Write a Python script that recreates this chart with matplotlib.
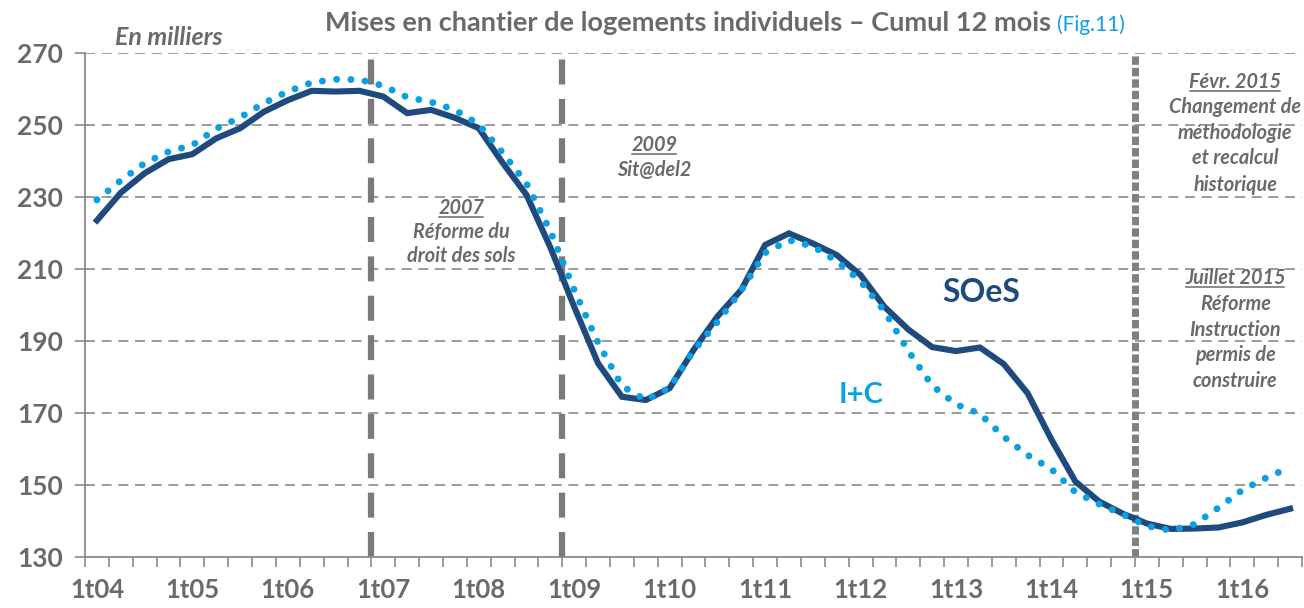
import matplotlib
matplotlib.use("Agg")
import matplotlib.pyplot as plt
from matplotlib.lines import Line2D

# --- data (thousands, rolling 12 months, quarterly 1t04 -> 3t16) ---
soes = [223.5, 231.2, 236.6, 240.5, 241.9, 246.3, 249.1, 253.7, 256.9, 259.5,
        259.3, 259.5, 257.9, 253.3, 254.2, 252.0, 249.1, 239.5, 230.6, 216.0,
        199.5, 183.8, 174.5, 173.6, 176.9, 187.5, 196.8, 204.2, 216.7, 219.9,
        217.1, 213.9, 208.3, 199.5, 193.2, 188.3, 187.2, 188.2, 183.6, 175.5,
        162.6, 151.0, 145.4, 142.0, 139.3, 137.8, 137.9, 138.2, 139.6, 141.7,
        143.4]
ic = [229.2, 234.6, 239.4, 242.6, 244.4, 249.0, 252.1, 256.1, 259.3, 261.8,
      262.7, 262.6, 260.9, 257.7, 256.4, 254.2, 250.2, 242.3, 233.8, 220.5,
      204.2, 189.5, 177.5, 173.6, 177.0, 187.3, 195.3, 204.0, 214.5, 218.0,
      216.3, 212.2, 206.6, 198.3, 187.2, 177.6, 172.4, 169.8, 163.4, 158.3,
      154.4, 148.0, 144.7, 141.8, 138.6, 137.4, 139.1, 143.7, 148.6, 152.0,
      154.9]
tick_labels = ["1t04", "1t05", "1t06", "1t07", "1t08", "1t09", "1t10",
               "1t11", "1t12", "1t13", "1t14", "1t15", "1t16"]
y_ticks = [130, 150, 170, 190, 210, 230, 250, 270]
# breaks: position between quarters where the series changed
breaks = [11.5, 19.5, 43.5]

plt.rcParams['font.family'] = ['Lato', 'DejaVu Sans']

NAVY = "#1f4a7e"
BLUE = "#0ba0e2"
GREY = "#6a6a6a"
AXIS = "#8a8a8a"

fig = plt.figure(figsize=(13.04, 6.08), dpi=100)
ax = fig.add_axes([0.0652, 0.0839, 0.9333, 0.8289])

x = list(range(len(soes)))

# grid
for v in y_ticks[1:]:
    ax.axhline(v, color=AXIS, lw=1.2, ls=(0, (6, 4)), zorder=1)

# vertical break lines
ax.axvline(breaks[0], color="#7a7a7a", lw=4.5, ls=(0, (4.0, 2.3)), zorder=2)
ax.axvline(breaks[1], color="#7a7a7a", lw=4.5, ls=(0, (4.0, 2.3)), zorder=2)
ax.axvline(breaks[2], color="#808080", lw=5, ls=(0, (1.2, 0.45)), zorder=2)

ax.plot(x, soes, color=NAVY, lw=4.4, solid_joinstyle="miter", zorder=3)
ax.plot(x, ic, color=BLUE, lw=5.0, ls=(0, (0.01, 2.05)),
        dash_capstyle="round", zorder=4)

ax.set_xlim(-0.5, 50.4)
ax.set_ylim(130, 270)

# axes styling
for s in ["top", "right"]:
    ax.spines[s].set_visible(False)
for s in ["left", "bottom"]:
    ax.spines[s].set_color(AXIS)
    ax.spines[s].set_linewidth(1.3)

ax.set_yticks(y_ticks)
ax.set_yticklabels([str(v) for v in y_ticks], fontsize=19, fontweight="bold",
                   color=GREY)
ax.tick_params(axis="y", length=7, width=1.2, color=AXIS, pad=9)

ax.set_xticks([i * 4 for i in range(len(tick_labels))])
ax.set_xticklabels(tick_labels, fontsize=18.5, fontweight="bold", color=GREY)
ax.set_xticks([i - 0.5 for i in range(len(soes) + 1)], minor=True)
ax.tick_params(axis="x", which="major", length=0, pad=15)
ax.tick_params(axis="x", which="minor", length=7, width=1.2, color=AXIS)

# title
title = fig.text(0.249, 0.962,
                 "Mises en chantier de logements individuels \u2013 Cumul 12 mois",
                 fontsize=19.5, fontweight="bold", color=GREY, ha="left",
                 va="center")

ann = dict(fontsize=14.3, fontweight="bold", style="italic", color=GREY,
           ha="center", va="center", clip_on=False)
ax.text(0.75, 274.2, "En milliers", ha="left", fontsize=18, fontweight="bold",
        style="italic", color=GREY, va="center", clip_on=False)

underlined = []
underlined.append(ax.text(15.27, 227.0, "2007", **ann))
ax.text(15.27, 220.3, "Réforme du", **ann)
ax.text(15.27, 213.6, "droit des sols", **ann)

underlined.append(ax.text(23.35, 244.4, "2009", **ann))
ax.text(23.35, 237.5, "Sit@del2", **ann)

fx = 47.7
underlined.append(ax.text(fx, 262.0, "Févr. 2015", **ann))
ax.text(fx, 255.0, "Changement de", **ann)
ax.text(fx, 247.8, "méthodologie", **ann)
ax.text(fx, 240.8, "et recalcul", **ann)
ax.text(fx, 233.3, "historique", **ann)

underlined.append(ax.text(fx, 207.5, "Juillet 2015", **ann))
ax.text(fx, 200.3, "Réforme", **ann)
ax.text(fx, 193.1, "Instruction", **ann)
ax.text(fx, 186.1, "permis de", **ann)
ax.text(fx, 178.9, "construire", **ann)

# series labels
ax.text(37.07, 203.6, "SOeS", fontsize=23, fontweight="bold", color=NAVY,
        ha="center", va="center")
ax.text(32.0, 175.0, "I+C", fontsize=21, fontweight="bold", color=BLUE,
        ha="center", va="center")

# underline the dates, place figure ref after title
fig.canvas.draw()
inv = fig.transFigure.inverted()
r = fig.canvas.get_renderer()
for t in underlined:
    bb = t.get_window_extent(renderer=r)
    (x0, y0), (x1, _) = inv.transform([(bb.x0 + 1, bb.y0 + 1), (bb.x1 - 1, bb.y0 + 1)])
    fig.add_artist(Line2D([x0, x1], [y0, y0], color=GREY, lw=1.1))

tb = title.get_window_extent(renderer=r)
fx0, fy0 = inv.transform((tb.x1 + 6, tb.y0))
fig.text(fx0, fy0, "(Fig.11)", fontsize=15, color=BLUE, ha="left", va="bottom")

fig.savefig("out.png", dpi=100)
